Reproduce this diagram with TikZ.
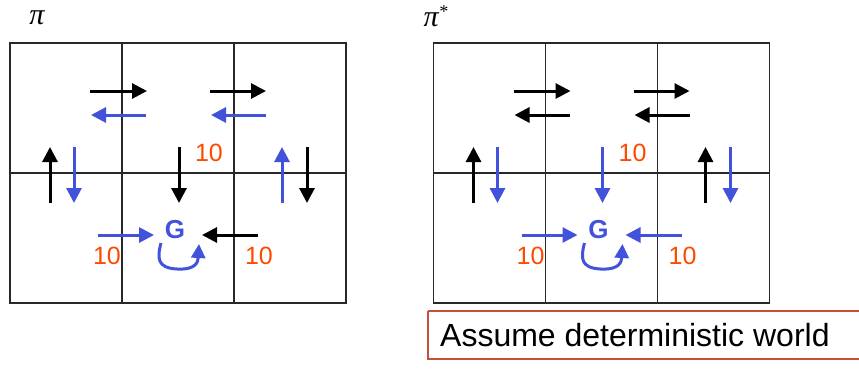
\documentclass[tikz,border=0pt]{standalone}
\usepackage{fontspec}
\setmainfont{Liberation Sans}
\newfontfamily\pifont{Liberation Serif}
\usetikzlibrary{arrows.meta}
\definecolor{pblue}{RGB}{66,82,218}
\definecolor{porange}{RGB}{255,72,0}
\definecolor{pbox}{RGB}{196,80,60}
\definecolor{pgrid}{RGB}{40,40,40}
\tikzset{
  gridline/.style={draw=pgrid, line width=1.3pt},
  arr/.style={line width=3pt, -{Triangle[length=15pt,width=15pt]}},
  blk/.style={arr, black},
  blu/.style={arr, pblue},
  num/.style={text=porange, font=\fontsize{25}{25}\selectfont, inner sep=0pt},
  goal/.style={text=pblue, font=\fontsize{26}{26}\selectfont\bfseries, inner sep=0pt},
  loop/.style={draw=pblue, line width=3pt, -{Triangle[length=14pt,width=14pt]}},
  pilabel/.style={inner sep=0pt, font=\pifont\itshape\fontsize{30}{30}\selectfont},
}
\begin{document}
\begin{tikzpicture}[x=1pt,y=-1pt]
\useasboundingbox (0,0) rectangle (859,376);
% ---------- left grid (pi) ----------
\node[pilabel] (pil) at (37,18) {π};
\draw[gridline] (10,43) rectangle (346,303);
\draw[gridline] (122,43) -- (122,303) (234,43) -- (234,303) (10,173) -- (346,173);
\draw[blk] (90,91) -- (147,91);
\draw[blk] (210,91) -- (266,91);
\draw[blu] (146,115) -- (91,115);
\draw[blu] (266,115) -- (211,115);
\draw[blk] (50,203) -- (50,147);
\draw[blu] (74,147) -- (74,203);
\draw[blk] (179,147) -- (179,203);
\draw[blu] (282,203) -- (282,147);
\draw[blk] (307,147) -- (307,203);
\node[num] (n1) at (209,153) {10};
\node[goal] (gl) at (175,230) {G};
\draw[blu] (98,235) -- (154,235);
\draw[blk] (258,235) -- (202,235);
\node[num] (n2) at (107,256) {10};
\node[num] (n3) at (259,256) {10};
\draw[loop] (161,243) .. controls (157,258) and (157,268) .. (177,269) .. controls (196,270) and (198,262) .. (199,244);
% ---------- right grid (pi*) ----------
\begin{scope}[xshift=423.5pt]
\node[pilabel, anchor=base west] (pir) at (0,26) {π\raisebox{9pt}{\fontsize{18}{18}\selectfont *}};
\draw[gridline] (10,43) rectangle (346,303);
\draw[gridline] (122,43) -- (122,303) (234,43) -- (234,303) (10,173) -- (346,173);
\draw[blk] (90,91) -- (147,91);
\draw[blk] (210,91) -- (266,91);
\draw[blk] (146,115) -- (91,115);
\draw[blk] (266,115) -- (211,115);
\draw[blk] (50,203) -- (50,147);
\draw[blu] (74,147) -- (74,203);
\draw[blu] (179,147) -- (179,203);
\draw[blk] (282,203) -- (282,147);
\draw[blu] (307,147) -- (307,203);
\node[num] (m1) at (209,153) {10};
\node[goal] (gr) at (175,230) {G};
\draw[blu] (98,235) -- (154,235);
\draw[blu] (258,235) -- (202,235);
\node[num] (m2) at (107,256) {10};
\node[num] (m3) at (259,256) {10};
\draw[loop] (161,243) .. controls (157,258) and (157,268) .. (177,269) .. controls (196,270) and (198,262) .. (199,244);
\end{scope}
% ---------- note box ----------
\draw[draw=pbox, line width=1.2pt] (428,311) -- (862,311) (428,311) -- (428,359) -- (862,359);
\node[anchor=west, inner sep=0pt, font=\fontsize{32}{32}\selectfont] (note) at (440,335) {Assume deterministic world};
\end{tikzpicture}
\end{document}
